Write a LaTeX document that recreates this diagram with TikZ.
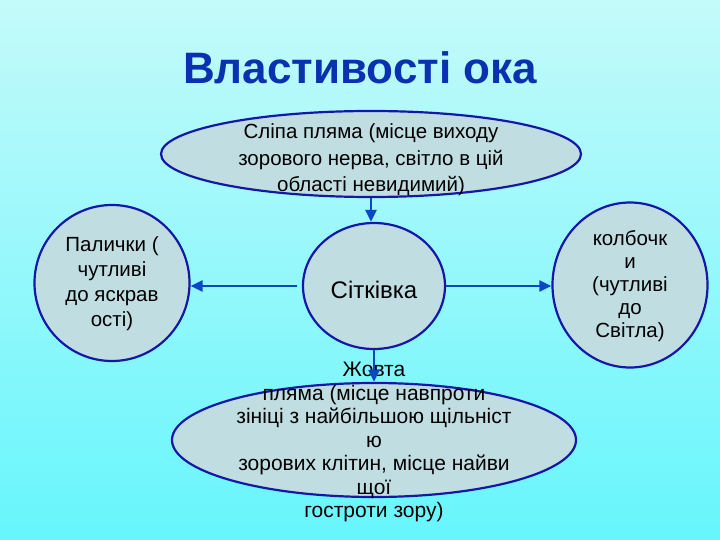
\documentclass[tikz,border=0pt]{standalone}
\usepackage{fontspec}
\setmainfont{Liberation Sans}
\usetikzlibrary{shapes.geometric,arrows.meta}
\definecolor{bgtop}{HTML}{C4FAFA}
\definecolor{bgbot}{HTML}{66F6FC}
\definecolor{nodefill}{HTML}{C0DEE2}
\definecolor{nodeline}{HTML}{1418A8}
\definecolor{arrowcol}{HTML}{0A48C8}
\definecolor{titlecol}{HTML}{0A32B0}
\tikzset{
  shapenode/.style={ellipse, draw=nodeline, fill=nodefill, line width=2.2pt, inner sep=0pt},
  txt/.style={align=center, inner sep=0pt, text=black},
  conn/.style={draw=arrowcol, line width=2.6pt, -{Triangle[length=12pt,width=11pt]}}
}
\begin{document}
\begin{tikzpicture}[x=1pt,y=-1pt]
\shade[top color=bgtop, bottom color=bgbot] (0,0) rectangle (720,540);
\useasboundingbox (0,0) rectangle (720,540);
\node[anchor=base, text=titlecol, font=\fontsize{44}{50}\selectfont\bfseries] (title) at (360,84) {Властивості ока};
% shapes
\node[shapenode, minimum width=420pt, minimum height=86pt] (top) at (371,154) {};
\node[shapenode, minimum width=142pt, minimum height=126pt] (ret) at (374,286) {};
\node[shapenode, minimum width=155pt, minimum height=156pt] (left) at (112,283) {};
\node[shapenode, minimum width=155pt, minimum height=165pt] (right) at (630,285) {};
\node[shapenode, minimum width=404pt, minimum height=114pt] (bot) at (374,440) {};
% texts
\node[txt, font=\fontsize{20.5}{26.5}\selectfont] (toptext) at (371,160) {Сліпа пляма (місце виходу\\зорового нерва, світло в цій\\області невидимий)};
\node[txt, font=\fontsize{24}{28}\selectfont] (rettext) at (374,290) {Сітківка};
\node[txt, font=\fontsize{20.5}{25}\selectfont] (lefttext) at (112,284) {Палички (\\чутливі\\до яскрав\\ості)};
\node[txt, font=\fontsize{20.5}{23}\selectfont] (righttext) at (630,286) {колбочк\\и\\(чутливі\\до\\Світла)};
\node[txt, font=\fontsize{21}{23.5}\selectfont] (bottext) at (374,442) {Жовта\\пляма (місце навпроти\\зініці з найбільшою щільніст\\ю\\зорових клітин, місце найви\\щої\\гостроти зору)};
% connectors
\draw[conn] (top.south) -- (top.south |- ret.north);
\draw[conn, shorten <=5pt] (ret.west) -- (ret.west -| left.east);
\draw[conn] (ret.east) -- (ret.east -| right.west);
\draw[conn] (ret.south) -- (ret.south |- bot.north);
\end{tikzpicture}
\end{document}
